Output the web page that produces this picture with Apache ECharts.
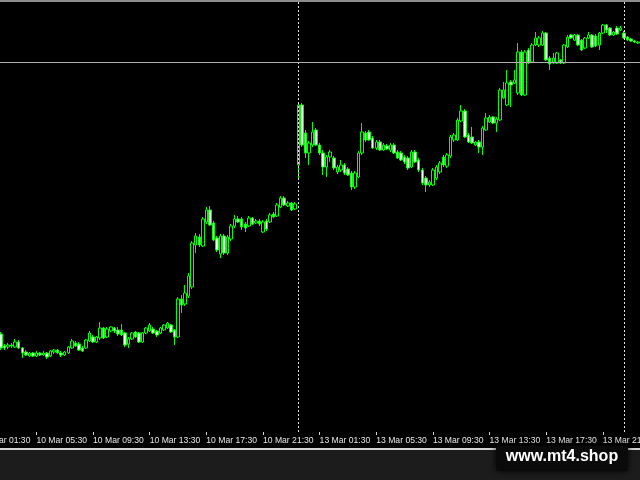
<!DOCTYPE html>
<html><head><meta charset="utf-8">
<script src="https://cdn.jsdelivr.net/npm/echarts@6/dist/echarts.min.js"></script>
<style>html,body{margin:0;padding:0;background:#000;overflow:hidden;width:640px;height:480px;}
#c{position:absolute;left:-22px;top:0;width:662px;height:480px;}</style>
</head><body><div id="c"></div>
<script>
// XAU-like M15 bars, arbitrary price units
const daySegments = [['10 Mar', '01:30', 90], ['13 Mar', '00:00', 92], ['14 Mar', '00:00', 5]];
const tickLabels = ['10 Mar 01:30','10 Mar 05:30','10 Mar 09:30','10 Mar 13:30','10 Mar 17:30','10 Mar 21:30',
  '13 Mar 01:30','13 Mar 05:30','13 Mar 09:30','13 Mar 13:30','13 Mar 17:30','13 Mar 21:30'];
const separators = ['13 Mar 00:00', '14 Mar 00:00'];
const hLine = 938;

const openP = [null,null,null,null,null,
652,666,654,653,655,653,658,652,648,644,647,644,647,645,647,644,648,650,647,645,
647,652,657,656,652,652,659,663,658,662,672,663,669,672,670,670,667,656,661,668,
667,658,667,669,671,669,667,670,672,675,670,663,701,696,704,713,755,763,754,778,
790,777,762,746,764,747,761,774,781,781,776,774,782,777,779,768,779,778,786,784,
793,802,794,797,791,835,895,867,847,855,870,855,847,833,843,842,828,830,835,831,
827,813,823,847,867,868,862,852,858,850,854,850,855,848,847,843,842,833,848,840,
830,822,815,815,822,828,843,834,844,860,860,879,889,865,863,855,858,853,870,878,
883,877,880,902,895,918,917,907,948,905,950,938,955,955,955,967,942,937,937,940,
937,953,965,960,965,960,952,962,965,964,955,967,975,972,965,972,970,967,963,961,
959,957];
const closeP = [null,null,null,null,null,
658,652,652,655,654,658,652,647,645,647,644,647,645,647,643,649,650,647,645,648,
653,659,654,650,649,660,667,658,663,672,662,671,673,669,666,665,655,661,667,663,
658,667,672,675,667,665,672,675,677,668,663,701,695,707,724,757,764,755,781,790,
775,760,750,764,747,763,774,781,778,773,772,782,776,779,776,778,771,785,783,795,
802,795,797,790,796,895,855,847,857,868,855,847,833,843,848,832,833,835,827,825,
813,827,847,868,860,860,852,858,850,855,851,855,847,842,840,838,832,848,838,830,
817,815,818,830,833,837,835,845,863,865,880,889,863,858,857,858,853,872,882,883,
877,881,910,910,917,915,920,948,905,948,938,955,962,962,967,940,936,942,947,937,
955,963,962,965,955,950,962,965,953,954,967,975,970,965,968,966,972,962,960,959,
958,958];
const lowP = [null,null,null,null,null,
650,650,650,651,652,652,651,642,644,643,643,643,644,644,641,643,646,646,643,644,
646,651,653,649,648,651,658,657,657,660,661,662,668,667,664,664,653,652,660,662,
657,657,666,668,666,663,666,669,671,667,655,662,687,694,702,711,747,753,753,776,
774,759,748,742,745,745,759,772,777,770,768,773,775,776,774,767,769,777,782,783,
792,794,793,789,790,822,853,842,835,853,854,845,825,823,838,830,826,828,825,824,
810,811,822,845,858,859,851,850,849,849,850,848,846,841,839,836,830,832,837,828,
815,808,813,814,820,826,833,832,842,858,859,878,862,857,856,854,847,845,869,877,
876,868,879,901,894,893,916,905,904,904,936,937,954,953,954,939,930,936,936,936,
936,952,961,959,954,949,951,961,952,953,950,966,967,964,964,965,969,961,959,958,
957,956];
const highP = [null,null,null,null,null,
660,668,656,657,657,661,660,653,650,648,648,649,648,649,648,650,651,651,649,649,
654,661,659,658,654,661,669,665,664,678,673,673,674,673,673,676,668,663,668,669,
668,668,673,677,673,670,673,676,678,676,671,703,705,715,727,759,767,766,783,793,
794,779,764,766,766,765,776,785,784,783,778,784,783,781,781,780,781,787,788,797,
804,804,799,798,798,897,897,870,859,878,872,857,850,845,850,844,835,840,837,833,
829,829,849,877,869,870,864,860,860,857,856,857,857,850,849,845,844,850,850,842,
832,824,820,832,835,839,845,847,865,867,882,895,891,867,873,859,860,874,887,885,
884,883,912,918,930,920,930,957,950,950,952,957,968,964,969,968,944,947,948,941,
956,965,966,966,966,961,963,968,966,966,968,976,976,973,969,974,974,969,964,962,
960,959];

const categories = [];
daySegments.forEach(([day, start, count]) => {
  let [h, m] = start.split(':').map(Number);
  for (let k = 0; k < count; k++) {
    categories.push(day + ' ' + String(h).padStart(2, '0') + ':' + String(m).padStart(2, '0'));
    m += 15; if (m >= 60) { m -= 60; h += 1; }
  }
});
const tickSet = new Set(tickLabels);
const candleData = openP.map((o, k) => o == null ? '-' : [o, closeP[k], lowP[k], highP[k]]);

const OFF = 22; // chart div is shifted left by this many px
const chart = echarts.init(document.getElementById('c'), null, {renderer: 'canvas'});
chart.setOption({
  backgroundColor: '#000000',
  animation: false,
  grid: {left: 0, right: 0, top: 0, bottom: 48, containLabel: false, outerBoundsMode: 'none'},
  xAxis: {
    type: 'category', data: categories, boundaryGap: true,
    axisLine: {show: false},
    axisTick: {show: true, alignWithLabel: true, length: 3, interval: (i, v) => tickSet.has(v), lineStyle: {color: '#d0d0d0', width: 1}},
    axisLabel: {show: true, interval: (i, v) => tickSet.has(v), align: 'left', margin: 4, color: '#e6e6e6',
      fontSize: 8.6, fontFamily: '"Liberation Sans", Arial, sans-serif', hideOverlap: false},
    splitLine: {show: false}
  },
  yAxis: {type: 'value', min: 568, max: 1000, show: false, splitLine: {show: false}},
  series: [{
    type: 'candlestick', data: candleData, barWidth: 3,
    itemStyle: {color: '#000000', color0: '#e8ffe8', borderColor: '#00ff00', borderColor0: '#00ff00', borderWidth: 1},
    markLine: {
      silent: true, symbol: 'none', label: {show: false}, animation: false,
      data: [
        ...separators.map(s => ({xAxis: s, lineStyle: {color: '#e0e0e0', type: [2, 2], width: 1}})),
        {yAxis: hLine, lineStyle: {color: '#b0b0b0', type: 'solid', width: 1}}
      ]
    }
  }],
  graphic: [
    {type: 'rect', shape: {x: 0, y: 0, width: 662, height: 2}, style: {fill: '#8c8c8c'}, z: 100},
    {type: 'rect', shape: {x: 0, y: 448, width: 662, height: 2}, style: {fill: '#d4d4d4'}, z: 100},
    {type: 'rect', shape: {x: 0, y: 450, width: 662, height: 30}, style: {fill: '#1c1c1c'}, z: 100},
    {type: 'rect', shape: {x: 496 + OFF, y: 446, width: 132, height: 25, r: 2}, style: {fill: '#0a0a0a', shadowBlur: 6, shadowColor: 'rgba(0,0,0,0.9)'}, z: 101},
    {type: 'text', x: 562 + OFF, y: 457, style: {text: 'www.mt4.shop', fill: '#ffffff', font: 'bold 16px "Liberation Sans", Arial, sans-serif', textAlign: 'center', textVerticalAlign: 'middle'}, z: 102}
  ]
});
</script></body></html>
